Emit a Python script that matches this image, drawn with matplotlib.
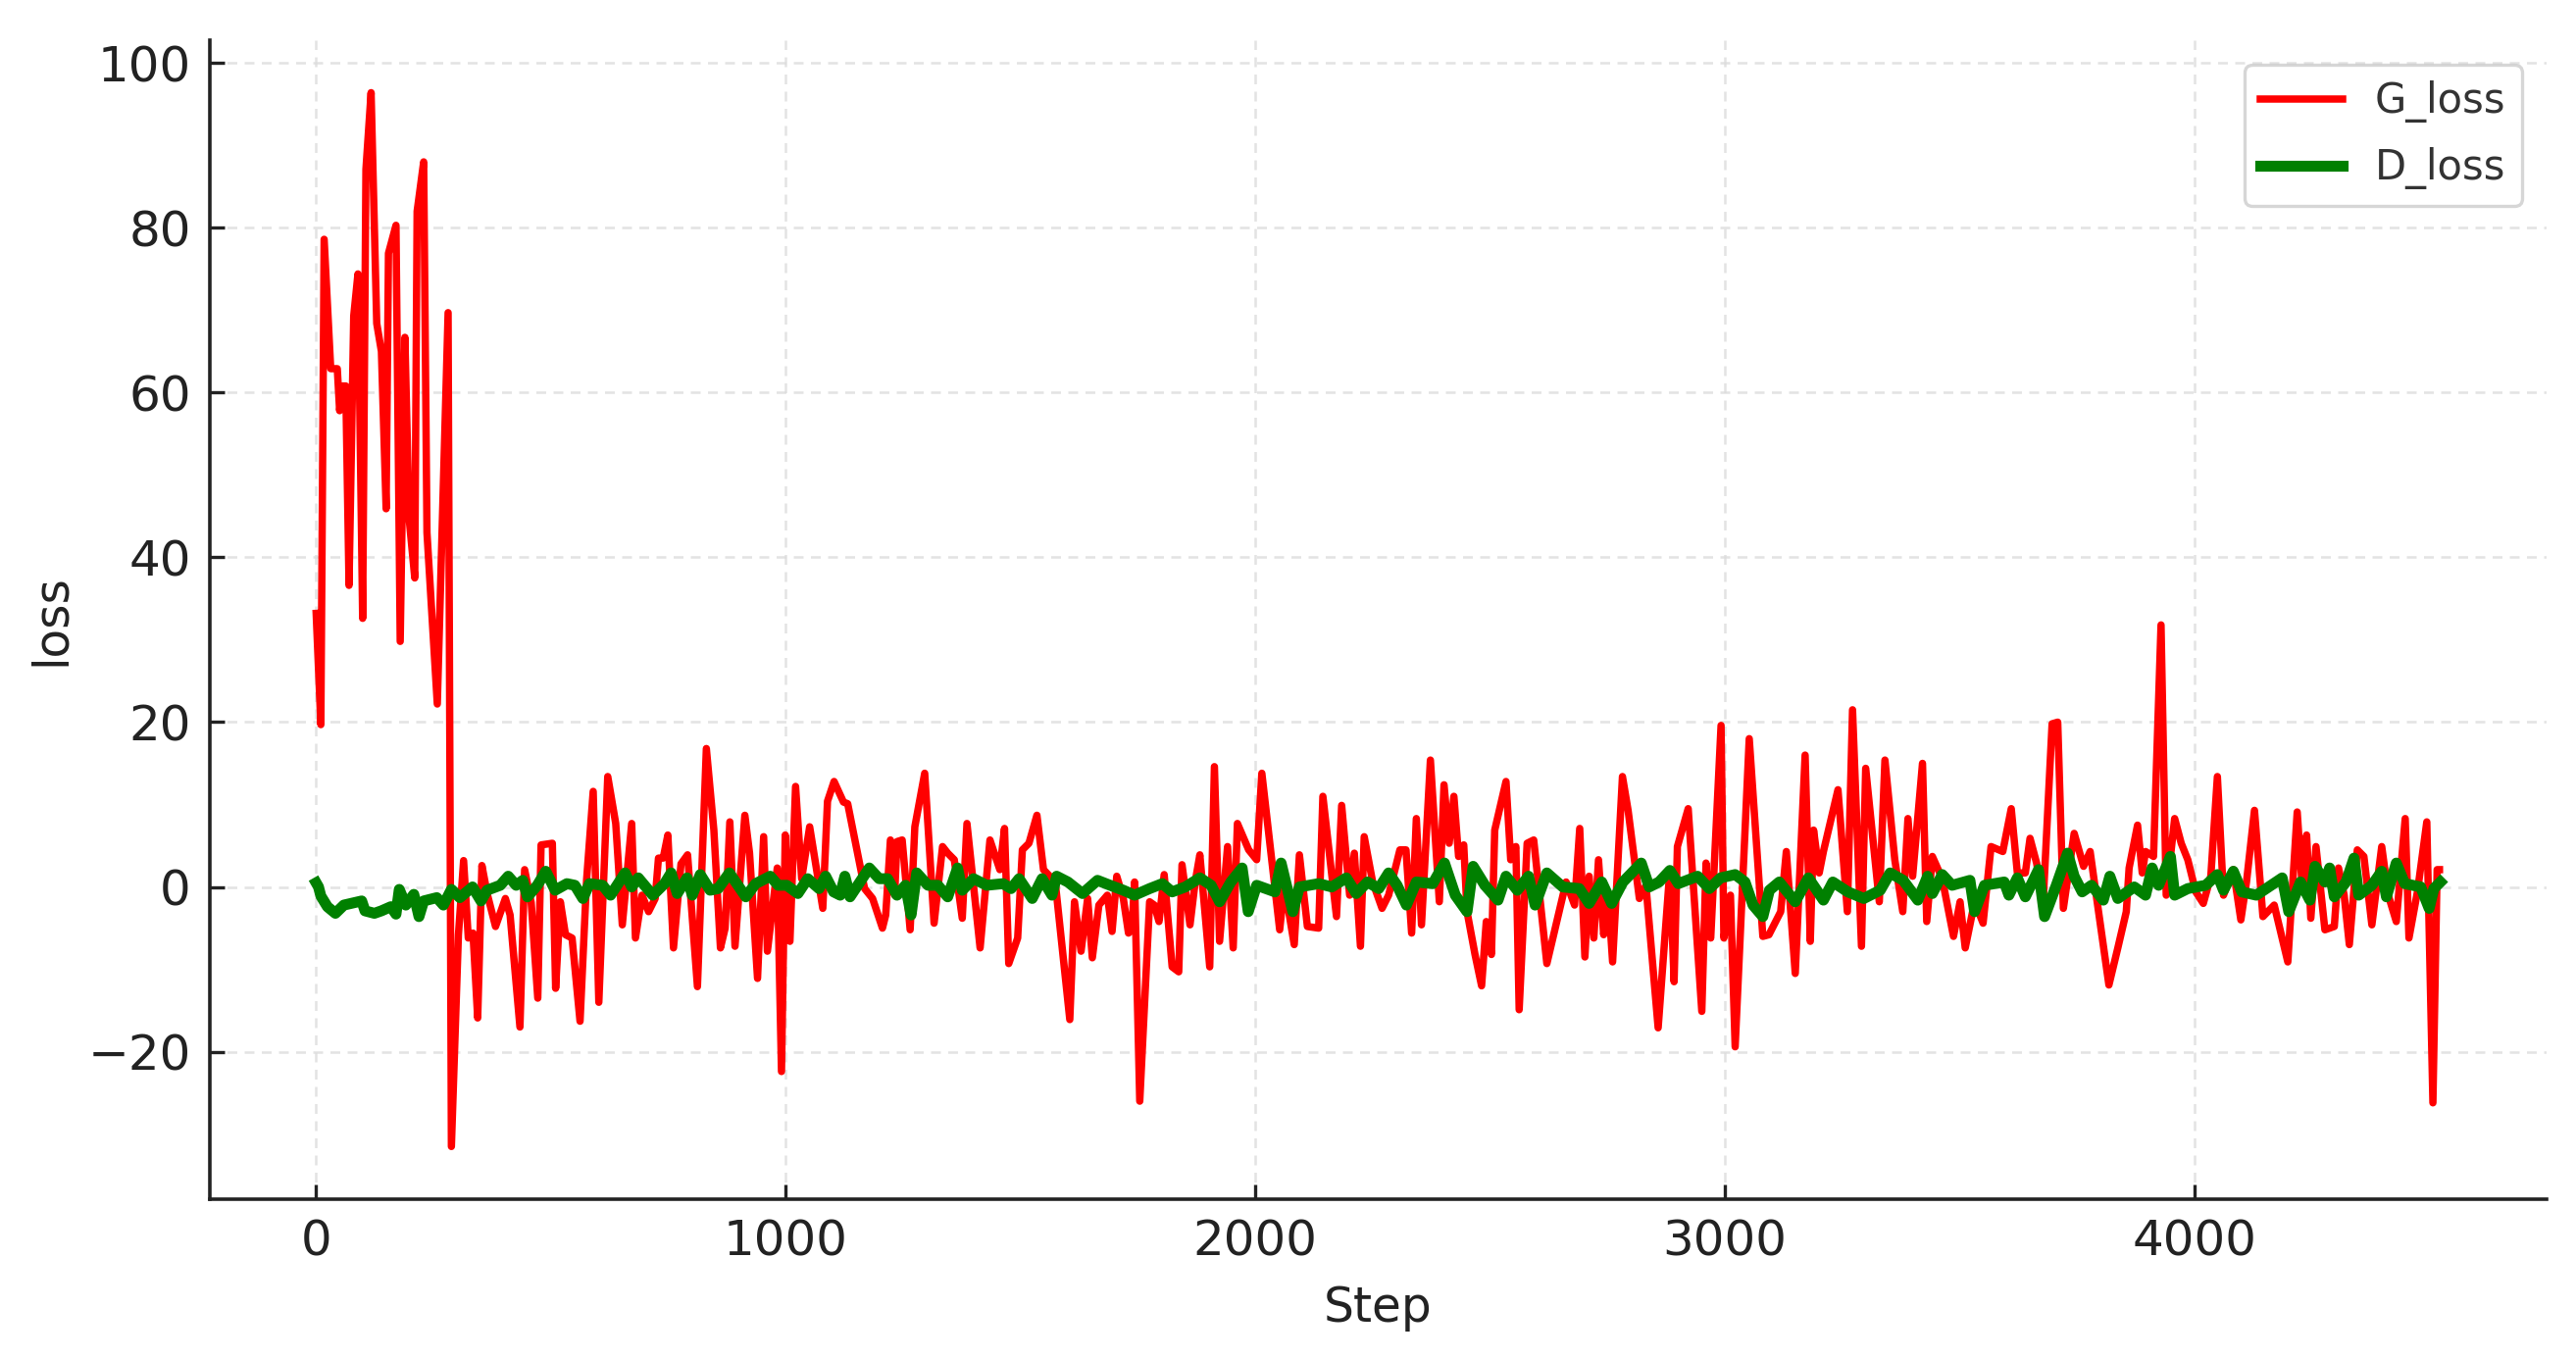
import matplotlib
matplotlib.use("Agg")
import matplotlib.pyplot as plt

steps_g = [0, 10, 17, 31, 45, 50, 56, 63, 70, 80, 89, 99, 106, 117, 129, 139, 149, 154, 170, 179,
           189, 198, 210, 215, 229, 236, 258, 281, 288, 303, 314, 324, 334, 344, 353, 365, 382, 403,
           413, 434, 444, 458, 472, 479, 503, 510, 520, 531, 545, 562, 576, 590, 602, 621, 638, 652,
           672, 680, 694, 708, 722, 729, 739, 749, 761, 777, 791, 812, 831, 847, 861, 871, 881, 892,
           913, 923, 940, 953, 961, 982, 991, 999, 1009, 1021, 1034, 1051, 1079, 1089, 1103, 1123,
           1132, 1168, 1185, 1206, 1213, 1223, 1232, 1237, 1248, 1265, 1275, 1296, 1316, 1334, 1345,
           1359, 1376, 1386, 1414, 1435, 1456, 1466, 1475, 1494, 1504, 1518, 1535, 1549, 1574, 1605,
           1615, 1629, 1643, 1653, 1667, 1685, 1695, 1705, 1719, 1730, 1737, 1743, 1754, 1775, 1785,
           1795, 1806, 1823, 1837, 1844, 1861, 1872, 1882, 1903, 1913, 1924, 1941, 1953, 1962, 1986,
           2003, 2014, 2052, 2062, 2083, 2094, 2111, 2135, 2144, 2173, 2184, 2201, 2211, 2224, 2232,
           2250, 2270, 2284, 2308, 2321, 2333, 2343, 2354, 2373, 2392, 2402, 2413, 2423, 2433, 2444,
           2451, 2468, 2482, 2492, 2503, 2510, 2534, 2544, 2555, 2562, 2579, 2593, 2621, 2662, 2680,
           2691, 2702, 2711, 2721, 2731, 2742, 2752, 2761, 2782, 2794, 2818, 2832, 2858, 2883, 2892,
           2899, 2922, 2951, 2960, 2970, 2992, 2998, 3012, 3022, 3052, 3081, 3094, 3119, 3131, 3150,
           3171, 3182, 3189, 3201, 3210, 3241, 3261, 3272, 3291, 3300, 3329, 3341, 3362, 3379, 3390,
           3400, 3421, 3430, 3442, 3463, 3487, 3501, 3512, 3532, 3550, 3567, 3592, 3610, 3623, 3640,
           3650, 3664, 3678, 3697, 3709, 3721, 3744, 3764, 3778, 3788, 3818, 3837, 3855, 3861, 3879,
           3889, 3896, 3913, 3929, 3940, 3958, 3972, 3986, 4003, 4019, 4035, 4049, 4062, 4083, 4099,
           4111, 4128, 4146, 4170, 4199, 4219, 4229, 4239, 4248, 4259, 4278, 4298, 4307, 4319, 4330,
           4347, 4361, 4378, 4399, 4413, 4430, 4449, 4457, 4475, 4495, 4508, 4517, 4522]

g_loss = [33.2, 19.7, 78.6, 62.9, 62.9, 57.8, 60.8, 60.8, 36.6, 69.3, 74.4, 32.6, 87.1, 96.4, 68.4,
          65.0, 45.9, 76.9, 80.3, 29.8, 66.7, 44.7, 37.5, 82.0, 88.0, 43.0, 22.2, 69.7, -31.5, -5.8,
          3.2, -6.2, -5.6, -15.9, 2.6, -1.0, -4.8, -1.4, -3.4, -17.0, 2.1, -1.9, -13.5, 5.1, 5.3,
          -12.3, -1.8, -5.8, -6.2, -16.3, 0.9, 11.6, -14.0, 13.4, 7.7, -4.6, 7.7, -6.2, -1.0, -3.0,
          -1.4, 3.5, 3.5, 6.3, -7.4, 2.8, 3.9, -12.1, 16.8, 6.9, -7.4, -5.0, 7.9, -7.2, 8.7, 4.1,
          -11.1, 6.1, -7.8, 2.3, -22.4, 6.3, -6.6, 12.2, 1.0, 7.3, -2.6, 10.4, 12.8, 10.3, 10.1,
          -0.2, -1.4, -5.0, -3.4, 5.7, -1.0, 5.5, 5.7, -5.2, 7.3, 13.8, -4.4, 4.9, 4.1, 3.3, -3.8,
          7.7, -7.4, 5.7, 2.1, 7.1, -9.3, -6.2, 4.5, 5.3, 8.7, 2.1, 0.6, -16.1, -1.8, -7.8, -1.4,
          -8.6, -2.2, -1.0, -5.4, 1.3, -1.4, -5.6, -5.2, 0.6, -26.0, -1.8, -2.2, -4.2, 1.5, -9.7,
          -10.3, 2.7, -4.6, 0.6, 3.9, -9.7, 14.6, -6.6, 4.9, -7.4, 7.7, 4.5, 3.3, 13.8, -5.2, 0.2,
          -7.0, 3.9, -4.8, -5.0, 11.0, -3.6, 9.9, -1.0, 4.1, -7.2, 6.1, 0.6, -2.6, -1.0, 4.5, 4.5,
          -5.6, 8.3, -4.6, 15.4, -1.8, 12.4, 5.3, 11.0, 3.7, 5.1, -3.0, -8.2, -12.0, -4.2, -8.2, 6.9,
          12.8, 3.3, 4.9, -14.9, 5.3, 5.7, -9.3, 0.6, -2.2, 7.1, -8.5, 1.3, -6.2, 3.3, -5.8, -1.4,
          -9.1, 13.4, 9.3, -1.4, 0.2, -17.1, 2.1, -11.5, 4.9, 9.5, -15.1, 2.9, -6.2, 19.6, -6.2,
          -1.0, -19.4, 18.0, -6.0, -5.8, -3.0, 4.3, -10.5, 16.0, -6.6, 6.9, 1.7, 4.3, 11.8, -3.0,
          21.5, -7.2, 14.4, -1.8, 15.4, 3.3, -3.0, 8.3, 1.3, 15.0, -4.2, 3.7, 1.0, -6.0, -1.8, -7.4,
          -1.8, -4.4, 4.9, 4.3, 9.5, 1.7, 1.7, 5.9, 2.9, -1.8, 19.8, 20.0, -2.6, 6.5, 2.5, 4.3, 0.2,
          -11.9, -7.4, -3.0, 2.3, 7.5, 1.7, 4.3, 3.7, 31.8, -1.0, 8.3, 5.3, 3.3, -0.6, -2.0, 1.3,
          13.4, -1.0, 2.1, -4.0, 0.6, 9.3, -3.6, -2.2, -9.1, 9.1, 0.6, 6.3, -3.8, 4.9, -5.2, -4.8,
          2.3, -1.0, -7.0, 4.5, 3.7, -4.6, 4.9, -1.0, -4.2, 8.3, -6.2, -0.6, 7.9, -26.2, 2.1, 2.1]

steps_d = [0, 5, 10, 24, 41, 59, 97, 104, 124, 139, 159, 170, 177, 191, 208, 219, 229, 257, 271, 288,
           306, 333, 351, 364, 392, 409, 426, 440, 450, 471, 489, 509, 534, 551, 568, 582, 610, 627,
           658, 672, 686, 717, 742, 756, 769, 790, 801, 818, 839, 856, 880, 915, 936, 967, 984, 1002,
           1026, 1047, 1071, 1085, 1102, 1116, 1126, 1137, 1158, 1178, 1199, 1217, 1237, 1255, 1267,
           1279, 1303, 1324, 1345, 1366, 1376, 1400, 1428, 1463, 1480, 1497, 1525, 1546, 1567, 1577,
           1601, 1632, 1664, 1691, 1719, 1743, 1775, 1802, 1823, 1851, 1882, 1906, 1924, 1948, 1972,
           1985, 2003, 2042, 2055, 2080, 2094, 2135, 2163, 2194, 2215, 2239, 2263, 2284, 2302, 2322,
           2343, 2378, 2403, 2426, 2451, 2464, 2489, 2517, 2534, 2558, 2582, 2596, 2621, 2655, 2690,
           2711, 2738, 2759, 2783, 2822, 2839, 2860, 2883, 2901, 2942, 2967, 2991, 3022, 3043, 3060,
           3081, 3095, 3116, 3150, 3178, 3210, 3230, 3262, 3296, 3331, 3352, 3380, 3411, 3432, 3442,
           3463, 3484, 3522, 3532, 3553, 3595, 3605, 3623, 3640, 3668, 3681, 3706, 3730, 3744, 3761,
           3781, 3806, 3820, 3837, 3872, 3896, 3910, 3924, 3949, 3958, 3986, 4024, 4049, 4062, 4083,
           4101, 4132, 4187, 4201, 4226, 4246, 4257, 4278, 4288, 4298, 4323, 4340, 4350, 4378, 4399,
           4409, 4430, 4448, 4482, 4500, 4510, 4524]

d_loss = [0.5, 0.0, -1.1, -2.4, -3.2, -2.2, -1.7, -2.9, -3.2, -2.9, -2.4, -3.3, -0.3, -2.2, -0.9,
          -3.6, -1.7, -1.3, -2.2, -0.3, -1.3, 0.0, -1.7, -0.4, 0.2, 1.3, 0.2, 0.8, -1.2, 0.2, 1.9,
          -0.4, 0.4, 0.2, -1.4, 0.4, 0.2, -1.0, 1.7, 0.0, 1.1, -1.0, 0.4, 1.7, -0.8, 1.1, -1.0, 1.5,
          -0.4, -0.2, 1.7, -1.2, 0.4, 1.3, 0.2, 0.2, -0.8, 1.0, -0.2, 1.3, -0.6, -1.0, 1.3, -1.2, 0.6,
          2.3, 1.0, 1.0, -1.0, 0.2, -3.4, 1.7, 0.2, 0.2, -1.2, 2.3, -0.4, 1.0, 0.2, 0.4, -0.2, 1.0,
          -1.4, 1.0, -1.0, 1.3, 0.6, -0.8, 0.8, 0.2, -0.4, -1.0, -0.2, 0.4, -0.6, 0.0, 1.1, 0.2, -1.8,
          0.6, 2.3, -3.0, 0.2, -0.6, 2.9, -3.0, 0.0, 0.4, 0.0, 1.1, -0.8, 0.6, -0.2, 1.7, 0.2, -2.2,
          0.6, 0.4, 2.9, -1.0, -3.0, 2.5, 0.2, -1.6, 1.3, -0.4, 1.3, -2.2, 1.7, 0.0, -0.2, -2.0, 0.6,
          -2.0, 0.6, 2.9, 0.0, 0.6, 2.0, 0.4, 1.3, -0.2, 1.1, 1.5, 0.6, -2.2, -3.6, -0.4, 0.6, -1.8,
          1.1, -1.6, 0.6, -0.6, -1.4, -0.4, 1.7, 0.8, -1.6, 1.3, -0.8, 1.5, 0.2, 0.8, -3.0, 0.2, 0.6,
          -1.0, 1.1, -1.2, 2.1, -3.6, 0.2, 4.1, 1.3, -0.6, 0.2, -1.6, 1.3, -1.4, 0.0, -1.0, 2.3, 0.2,
          3.7, -1.0, -0.2, 0.2, 1.5, -0.4, 1.9, -0.6, -1.0, 1.1, -3.0, 0.6, -1.6, 2.5, 0.6, 2.3, -1.2,
          0.6, 3.5, -1.0, 0.2, 1.9, -1.2, 2.9, 0.4, 0.0, -2.6, -0.2, 0.6]

series_labels = ["G_loss", "D_loss"]
x_label = "Step"
y_label = "loss"

plt.rcParams['font.family'] = ['DejaVu Sans']
fig = plt.figure(figsize=(13.135, 6.93), dpi=200)
ax = fig.add_axes([0.0815, 0.1176, 0.9071, 0.853])

ax.plot(steps_g, g_loss, color='#ff0000', lw=2.7, label=series_labels[0], zorder=3)
ax.plot(steps_d, d_loss, color='#008000', lw=4.0, label=series_labels[1], zorder=4)

ax.grid(True, linestyle=(0, (4, 3)), color='#dcdcdc', lw=0.9, alpha=0.8)
ax.set_axisbelow(True)
for s in ['top', 'right']:
    ax.spines[s].set_visible(False)
for s in ['left', 'bottom']:
    ax.spines[s].set_linewidth(1.3)
    ax.spines[s].set_color('#222222')

ax.set_xticks([0, 1000, 2000, 3000, 4000])
ax.set_yticks([-20, 0, 20, 40, 60, 80, 100])
ax.set_yticklabels(['\u221220', '0', '20', '40', '60', '80', '100'])
ax.tick_params(direction='in', length=5.4, width=1.2, labelsize=18, pad=7,
               colors='#222222', labelcolor='#222222')
ax.set_xlabel(x_label, fontsize=17.5, labelpad=7, color='#222222')
ax.set_ylabel(y_label, fontsize=17.5, labelpad=5, color='#222222')

leg = ax.legend(loc='upper right', fontsize=15, handlelength=2.0, frameon=True,
                fancybox=True, borderpad=0.4, labelspacing=0.6, handletextpad=0.8,
                borderaxespad=0.6)
leg.get_frame().set_edgecolor('#cccccc')
leg.get_frame().set_linewidth(1.2)
for t in leg.get_texts():
    t.set_color('#333333')

fig.savefig('out.png', dpi=200)
